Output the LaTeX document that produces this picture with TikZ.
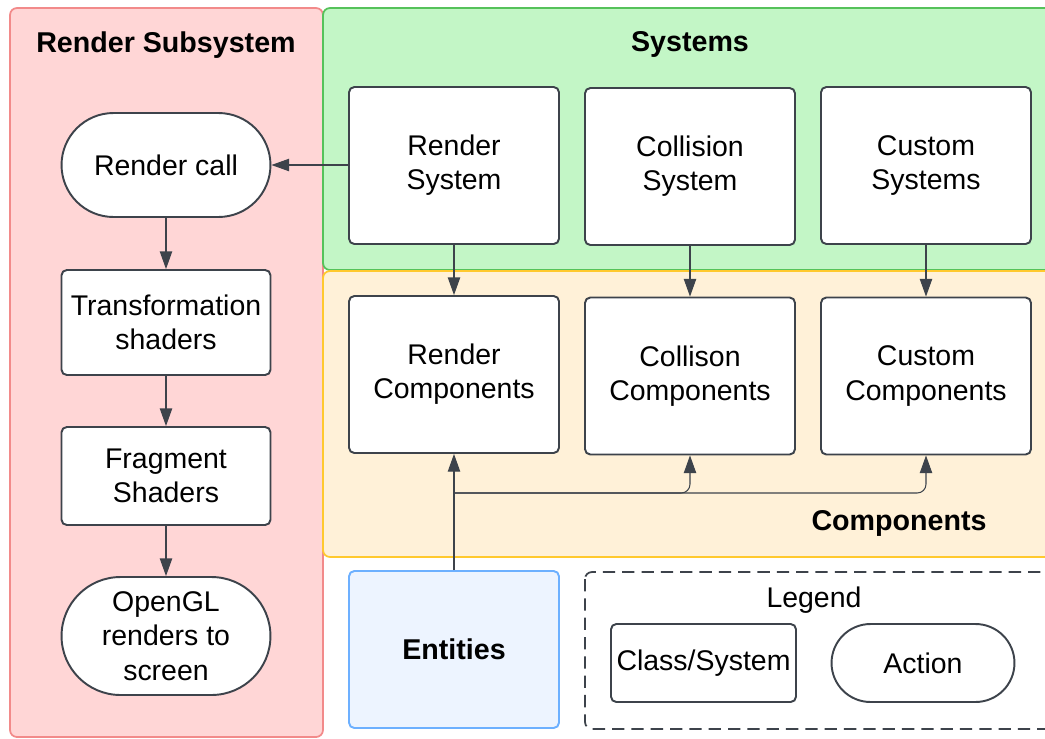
\documentclass[tikz,border=0pt]{standalone}
\usepackage{fontspec}
\setmainfont{Liberation Sans}
\usetikzlibrary{shapes.misc,arrows.meta}

\definecolor{inkgray}{HTML}{3D434B}
\definecolor{redfill}{HTML}{FFD6D6}
\definecolor{redline}{HTML}{F28A8A}
\definecolor{greenfill}{HTML}{C3F6C6}
\definecolor{greenline}{HTML}{55C25A}
\definecolor{yellowfill}{HTML}{FFF1D8}
\definecolor{yellowline}{HTML}{FFC92E}
\definecolor{bluefill}{HTML}{EDF4FF}
\definecolor{blueline}{HTML}{6DB0FF}

\tikzset{
  panel/.style={line width=1pt,rounded corners=4pt},
  title/.style={font=\fontsize{16.3}{19.5}\selectfont\bfseries},
  classbox/.style={draw=inkgray,fill=white,line width=1.1pt,rounded corners=3pt,
    align=center,inner sep=2pt,minimum width=4.2cm,minimum height=3.14cm},
  actionbox/.style={draw=inkgray,fill=white,line width=1.1pt,rounded rectangle,
    align=center,inner sep=2pt,minimum width=4.32cm,minimum height=2.08cm},
  flow/.style={draw=inkgray,line width=0.6pt,-{Triangle[length=10pt,width=7pt]}}
}

\begin{document}
\begin{tikzpicture}[x=0.02cm,y=-0.02cm,font=\fontsize{16.2}{19.5}\selectfont]

    \useasboundingbox (0,0) rectangle (1045,738);

    % panels
    \draw[panel,fill=redfill,draw=redline] (10,8) rectangle (323,737);
    \draw[panel,fill=greenfill,draw=greenline] (323,8) rectangle (1060,270);
    \draw[panel,fill=yellowfill,draw=yellowline] (323,271) rectangle (1060,557);
    \node[title] (rendertitle) at (166,45) {Render Subsystem};
    \node[title] (systitle) at (690,44) {Systems};
    \node[title] (comptitle) at (899,523) {Components};

    % render pipeline
    \node[actionbox] (call) at (166,165) {Render call};
    \node[classbox,minimum width=4.18cm,minimum height=2.1cm] (trans) at (166,322.5) {Transformation\\shaders};
    \node[classbox,minimum width=4.18cm,minimum height=1.96cm] (frag) at (166,476) {Fragment\\Shaders};
    \node[actionbox,minimum height=2.36cm] (opengl) at (166,636) {OpenGL\\renders to\\screen};

    % systems
    \node[classbox] (rsys) at (454,165.5) {Render\\System};
    \node[classbox] (csys) at (690,166.5) {Collision\\System};
    \node[classbox] (cusys) at (926,165.5) {Custom\\Systems};

    % components
    \node[classbox] (rcomp) at (454,374.5) {Render\\Components};
    \node[classbox] (ccomp) at (690,376) {Collison\\Components};
    \node[classbox] (cucomp) at (926,376) {Custom\\Components};

    % entities
    \node[classbox,draw=blueline,fill=bluefill,font=\fontsize{16.3}{19.5}\selectfont\bfseries] (ent) at (454,649.5) {Entities};

    % legend
    \draw[inkgray,line width=1pt,dash pattern=on 7pt off 4pt,rounded corners=4pt] (585,572) rectangle (1060,729);
    \node (legtitle) at (814,600) {Legend};
    \node[classbox,minimum width=3.7cm,minimum height=1.56cm] (legclass) at (703.5,663) {Class/System};
    \node[actionbox,minimum width=3.8cm,minimum height=1.56cm] (legaction) at (923,663) {Action};

    % connectors
    \draw[flow] (rsys.west |- call.east) -- (call.east);
    \draw[flow] (call.south) -- (trans.north);
    \draw[flow] (trans.south) -- (frag.north);
    \draw[flow] (frag.south) -- (opengl.north);
    \draw[flow] (rsys.south) -- (rcomp.north);
    \draw[flow] (csys.south) -- (ccomp.north);
    \draw[flow] (cusys.south) -- (cucomp.north);

    \coordinate (fork) at (454,493);
    \draw[flow] (ent.north) -- (rcomp.south);
    \draw[flow,rounded corners=5pt] (fork) -| (ccomp.south);
    \draw[flow,rounded corners=5pt] (fork) -| (cucomp.south);

\end{tikzpicture}
\end{document}
